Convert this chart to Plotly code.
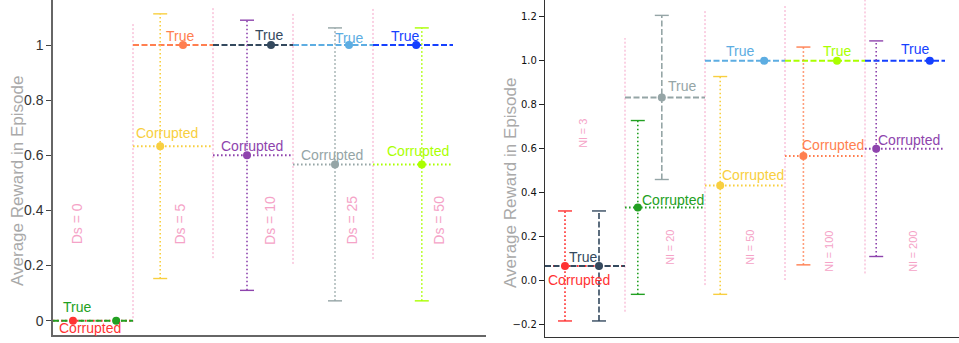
import plotly.graph_objects as go

# ---------------- data ----------------
left_groups = ["Ds = 0", "Ds = 5", "Ds = 10", "Ds = 25", "Ds = 50"]
left_true_mean = [0.0, 1.0, 1.0, 1.0, 1.0]
left_true_std = [0.0, 0.0, 0.0, 0.0, 0.0]
left_corr_mean = [0.0, 0.633, 0.6, 0.567, 0.567]
left_corr_std = [0.0, 0.48, 0.49, 0.495, 0.495]
left_true_xpos = [0.79, 1.625, 2.725, 3.70, 4.54]
left_corr_xpos = [0.25, 1.34, 2.425, 3.525, 4.61]

right_groups = ["Nl = 3", "Nl = 20", "Nl = 50", "Nl = 100", "Nl = 200"]
right_true_mean = [0.067, 0.833, 1.0, 1.0, 1.0]
right_true_std = [0.25, 0.373, 0.0, 0.0, 0.0]
right_corr_mean = [0.067, 0.333, 0.433, 0.567, 0.6]
right_corr_std = [0.25, 0.395, 0.495, 0.495, 0.49]
right_true_xpos = [0.675, 1.46, 2.74, 3.65, 4.81]
right_corr_xpos = [0.25, 1.16, 2.19, 3.23, 4.14]

left_sep_lo = [-0.005, 0.227, 0.206, 0.224]
left_sep_hi = [1.076, 1.138, 1.116, 1.131]
right_sep_lo = [-0.141, -0.02, 0.003, 0.033]
right_sep_hi = [1.103, 1.226, 1.249, 1.30]

# ---------------- styles ----------------
GREEN, RED, CORAL, GOLD = "#22a022", "#ff3333", "#ff7f50", "#f8cf40"
DARK, PURPLE, GRAY, LBLUE = "#34495e", "#8e44ad", "#95a5a6", "#5dade2"
BLUE, LIME, PINK = "#1540ff", "#aaff00", "#f5a3c7"

left_true_col = [GREEN, CORAL, DARK, LBLUE, BLUE]
left_corr_col = [RED, GOLD, PURPLE, GRAY, LIME]
right_true_col = [DARK, GRAY, LBLUE, LIME, BLUE]
right_corr_col = [RED, GREEN, GOLD, CORAL, PURPLE]

# label placements (layout only)
left_true_lbl = [(0.30, 0.05), (1.59, 1.033), (2.70, 1.036), (3.70, 1.025), (4.40, 1.033)]
left_corr_lbl = [(0.46, -0.027), (1.43, 0.681), (2.49, 0.634), (3.49, 0.60), (4.56, 0.616)]
left_grp_lbl = [(0.30, 0.268), (1.59, 0.268), (2.72, 0.268), (3.74, 0.268), (4.83, 0.268)]
right_true_lbl = [(0.475, 0.108), (1.71, 0.885), (2.44, 1.044), (3.65, 1.044), (4.625, 1.053)]
right_corr_lbl = [(0.425, 0.003), (1.60, 0.367), (2.60, 0.48), (3.60, 0.617), (4.55, 0.64)]
right_grp_lbl = [(0.48, 0.595), (1.57, 0.064), (2.57, 0.064), (3.54, 0.03), (4.59, 0.03)]

DASH = "6px,2.5px"
DOT = "1.6px,2.4px"
LBL_FONT = "Liberation Sans, Arial, sans-serif"

fig = go.Figure()
annotations = []


def add_panel(xa, ya, groups, tm, ts, cm, cs, txp, cxp, tcol, ccol,
              sep_lo, sep_hi, tl, cl, gl, grp_size):
    xr, yr = xa, ya
    # separators
    for i in range(len(sep_lo)):
        fig.add_trace(go.Scatter(x=[i + 1, i + 1], y=[sep_lo[i], sep_hi[i]], mode="lines",
                                 line=dict(color=PINK, width=1, dash="2px,2px"),
                                 xaxis=xr, yaxis=yr, hoverinfo="skip"))
    n = len(groups)
    # horizontal lines: corrupted first, true on top
    for i in range(n):
        fig.add_trace(go.Scatter(x=[i, i + 1], y=[cm[i], cm[i]], mode="lines",
                                 line=dict(color=ccol[i], width=2, dash=DOT),
                                 xaxis=xr, yaxis=yr, hoverinfo="skip"))
    for i in range(n):
        fig.add_trace(go.Scatter(x=[i, i + 1], y=[tm[i], tm[i]], mode="lines",
                                 line=dict(color=tcol[i], width=2, dash=DASH),
                                 xaxis=xr, yaxis=yr, hoverinfo="skip"))
    # error bars
    for means, stds, xp, cols, dsh in ((cm, cs, cxp, ccol, DOT), (tm, ts, txp, tcol, DASH)):
        for i in range(n):
            if stds[i] <= 0:
                continue
            lo, hi = means[i] - stds[i], means[i] + stds[i]
            fig.add_trace(go.Scatter(x=[xp[i], xp[i]], y=[lo, hi], mode="lines",
                                     line=dict(color=cols[i], width=1.6, dash=dsh),
                                     xaxis=xr, yaxis=yr, hoverinfo="skip"))
            fig.add_trace(go.Scatter(x=[xp[i], xp[i]], y=[lo, hi], mode="markers",
                                     marker=dict(symbol="line-ew", size=10,
                                                 line=dict(color=cols[i], width=1.4)),
                                     xaxis=xr, yaxis=yr, hoverinfo="skip"))
    # markers
    for i in range(n):
        fig.add_trace(go.Scatter(x=[cxp[i]], y=[cm[i]], mode="markers",
                                 marker=dict(color=ccol[i], size=8),
                                 xaxis=xr, yaxis=yr, hoverinfo="skip"))
        fig.add_trace(go.Scatter(x=[txp[i]], y=[tm[i]], mode="markers",
                                 marker=dict(color=tcol[i], size=8),
                                 xaxis=xr, yaxis=yr, hoverinfo="skip"))
    # labels
    for i in range(n):
        annotations.append(dict(x=tl[i][0], y=tl[i][1], xref=xr, yref=yr, text="True",
                                showarrow=False, font=dict(family=LBL_FONT, size=14, color=tcol[i])))
        annotations.append(dict(x=cl[i][0], y=cl[i][1], xref=xr, yref=yr, text="Corrupted",
                                showarrow=False, font=dict(family=LBL_FONT, size=14, color=ccol[i])))
        annotations.append(dict(x=gl[i][0], y=gl[i][1], xref=xr, yref=yr, text=groups[i],
                                showarrow=False, textangle=-90, yanchor="bottom",
                                font=dict(family=LBL_FONT, size=grp_size, color=PINK)))


add_panel("x", "y", left_groups, left_true_mean, left_true_std, left_corr_mean, left_corr_std,
          left_true_xpos, left_corr_xpos, left_true_col, left_corr_col,
          left_sep_lo, left_sep_hi, left_true_lbl, left_corr_lbl, left_grp_lbl, 14)
add_panel("x2", "y2", right_groups, right_true_mean, right_true_std, right_corr_mean, right_corr_std,
          right_true_xpos, right_corr_xpos, right_true_col, right_corr_col,
          right_sep_lo, right_sep_hi, right_true_lbl, right_corr_lbl, right_grp_lbl, 11)

annotations.append(dict(x=17 / 959, y=1 - 181 / 343, xref="paper", yref="paper",
                        xanchor="center", yanchor="middle",
                        text="Average Reward in Episode", textangle=-90, showarrow=False,
                        font=dict(family=LBL_FONT, size=17, color="#a9a9a9")))
annotations.append(dict(x=510 / 959, y=1 - 183 / 343, xref="paper", yref="paper",
                        xanchor="center", yanchor="middle",
                        text="Average Reward in Episode", textangle=-90, showarrow=False,
                        font=dict(family=LBL_FONT, size=17, color="#a9a9a9")))

fig.update_layout(
    width=959, height=343, margin=dict(l=0, r=0, t=0, b=0),
    paper_bgcolor="white", plot_bgcolor="white", showlegend=False, hovermode=False,
    annotations=annotations,
    xaxis=dict(domain=[53 / 959, 486 / 959], range=[0, 433 / 80], showgrid=False, zeroline=False,
               showticklabels=False, ticks="", showline=True, linecolor="#666", linewidth=1.5,
               anchor="y"),
    yaxis=dict(domain=[8 / 343, 1], range=[-14.3 / 275.7, 1 + 45 / 275.7], showgrid=False,
               zeroline=False, showline=True, linecolor="#666", linewidth=1.5, ticks="outside",
               ticklen=5, tickcolor="#444", tickvals=[0, 0.2, 0.4, 0.6, 0.8, 1],
               ticktext=["0", "0.2", "0.4", "0.6", "0.8", "1"],
               tickfont=dict(family=LBL_FONT, size=14, color="#333"), anchor="x"),
    xaxis2=dict(domain=[545 / 959, 1], range=[0, 414 / 80], showgrid=False, zeroline=False,
                showticklabels=False, ticks="", showline=True, linecolor="#333", linewidth=1.3,
                anchor="y2"),
    yaxis2=dict(domain=[6 / 343, 1], range=[-56.3 / 220, 280.7 / 220], showgrid=False,
                zeroline=False, showline=True, linecolor="#333", linewidth=1.3, ticks="outside",
                ticklen=5, tickcolor="#222", tickvals=[-0.2, 0, 0.2, 0.4, 0.6, 0.8, 1.0, 1.2],
                tickformat=".1f", tickfont=dict(family="DejaVu Sans", size=10, color="#111"),
                anchor="x2"),
)

fig.write_html("out.html")
